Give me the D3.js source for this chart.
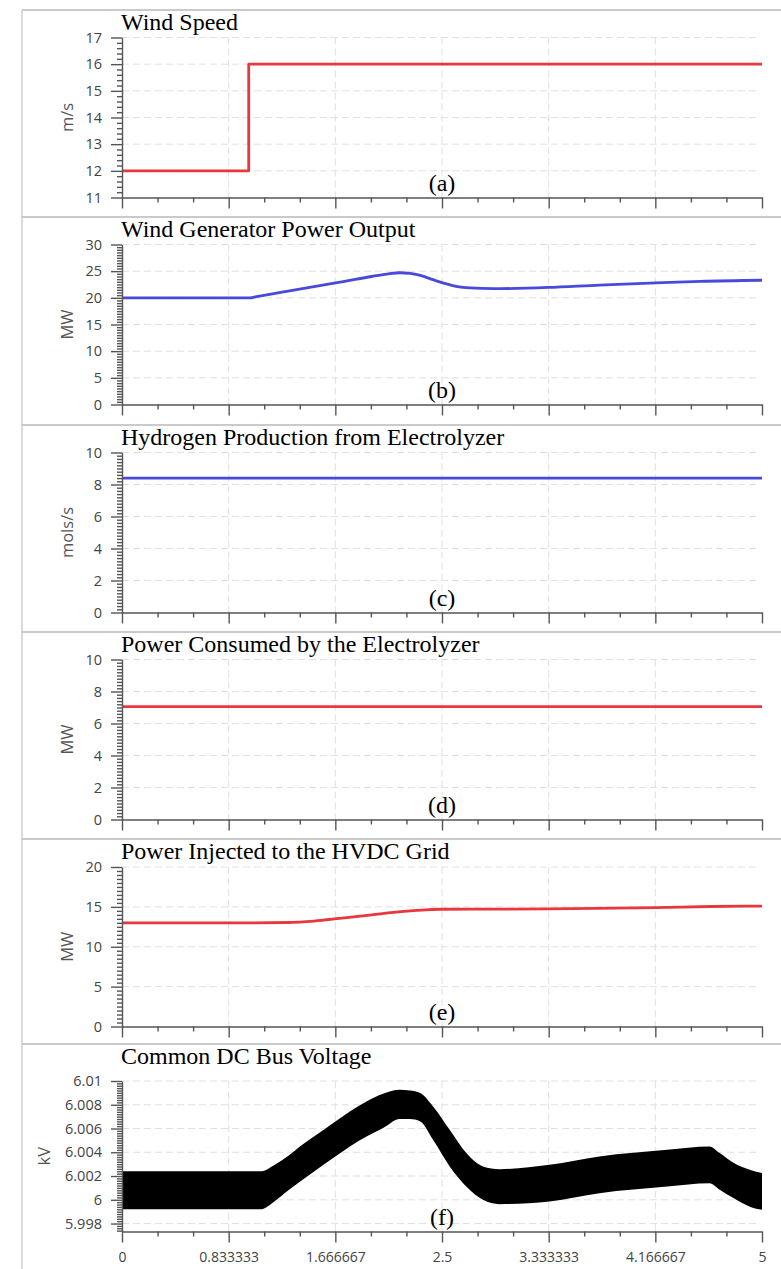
<!DOCTYPE html>
<html><head><meta charset="utf-8">
<script src="https://cdn.jsdelivr.net/npm/d3@7"></script>
<style>body{margin:0;background:#fff} svg{display:block}</style>
</head><body><svg id="c" width="781" height="1269"></svg>
<script>
// ---------- data ----------
const timeTicks = [0, 0.833333, 1.666667, 2.5, 3.333333, 4.166667, 5];
const timeTickLabels = ["0", "0.833333", "1.666667", "2.5", "3.333333", "4.166667", "5"];
const panelTitles = ["Wind Speed", "Wind Generator Power Output", "Hydrogen Production from Electrolyzer",
  "Power Consumed by the Electrolyzer", "Power Injected to the HVDC Grid", "Common DC Bus Voltage"];
const panelLetters = ["(a)", "(b)", "(c)", "(d)", "(e)", "(f)"];
const unitLabels = ["m/s", "MW", "mols/s", "MW", "MW", "kV"];

const windSpeedTicks = [11, 12, 13, 14, 15, 16, 17];
const windPowerTicks = [0, 5, 10, 15, 20, 25, 30];
const hydrogenTicks = [0, 2, 4, 6, 8, 10];
const elecPowerTicks = [0, 2, 4, 6, 8, 10];
const hvdcPowerTicks = [0, 5, 10, 15, 20];
const dcVoltageTicks = [5.998, 6, 6.002, 6.004, 6.006, 6.008, 6.01];
const dcVoltageTickLabels = ["5.998", "6", "6.002", "6.004", "6.006", "6.008", "6.01"];

const windSpeedTime = [0, 0.99, 0.99, 5];
const windSpeedValue = [12, 12, 16, 16];

const windPowerTime = [0, 1, 1.04, 1.25, 1.5, 1.75, 1.95, 2.07, 2.17, 2.25, 2.33, 2.43, 2.52, 2.62, 2.72, 2.9, 3.33, 3.73, 4.17, 4.52, 5];
const windPowerValue = [20, 20, 20.17, 21.05, 22.1, 23.15, 24.0, 24.45, 24.7, 24.6, 24.2, 23.4, 22.7, 22.1, 21.85, 21.72, 21.95, 22.4, 22.8, 23.1, 23.3];

const hydrogenTime = [0, 5];
const hydrogenValue = [8.4, 8.4];

const elecPowerTime = [0, 5];
const elecPowerValue = [7.05, 7.05];

const hvdcTime = [0, 1.0, 1.3, 1.5, 1.7, 1.9, 2.1, 2.3, 2.5, 3.0, 3.5, 4.17, 4.6, 5];
const hvdcValue = [13, 13, 13.04, 13.22, 13.55, 13.9, 14.28, 14.55, 14.7, 14.72, 14.78, 14.9, 15.05, 15.1];

const dcTime = [0, 1.08, 1.2, 1.3, 1.4, 1.52, 1.65, 1.78, 1.91, 2.04, 2.17, 2.25, 2.33, 2.43, 2.56, 2.69, 2.82, 2.95, 3.34, 3.73, 4.26, 4.59, 4.67, 4.78, 4.91, 5];
const dcUpper = [6.0024, 6.0024, 6.0030, 6.0037, 6.00457, 6.00547, 6.00646, 6.00744, 6.00828, 6.00893, 6.00926, 6.0092, 6.00898, 6.00786, 6.00589, 6.00393, 6.00281, 6.00258, 6.00295, 6.00365, 6.00421, 6.00449, 6.00393, 6.00309, 6.0025, 6.00225];
const dcLower = [5.9992, 5.9992, 5.99995, 6.0008, 6.0016, 6.00253, 6.00351, 6.00449, 6.00533, 6.00604, 6.0068, 6.0068, 6.0066, 6.00505, 6.00281, 6.00112, 6.0, 5.99963, 5.99986, 6.00056, 6.00112, 6.0014, 6.00085, 6.00012, 5.9994, 5.99916];

// ---------- layout ----------
const RED = "#e6262c", BLUE = "#3a3ad8";
const X0 = 122, X1 = 762;
const panelTops = [10, 217, 425, 632, 839, 1044];
const unitX = [72.5, 72.5, 72.5, 72.5, 72.5, 50];
const svg = d3.select("#c");
const x = d3.scaleLinear().domain([0, 5]).range([X0, X1]);

const panels = [
  {ticks: windSpeedTicks, labels: windSpeedTicks.map(String), domain: [11, 17], minor: 0.2, topOff: 27.5,
   kind: "line", t: windSpeedTime, v: windSpeedValue, color: RED, curve: d3.curveLinear},
  {ticks: windPowerTicks, labels: windPowerTicks.map(String), domain: [0, 30], minor: 0.5, topOff: 27.5,
   kind: "line", t: windPowerTime, v: windPowerValue, color: BLUE, curve: d3.curveMonotoneX},
  {ticks: hydrogenTicks, labels: hydrogenTicks.map(String), domain: [0, 10], minor: 0.2, topOff: 27.5,
   kind: "line", t: hydrogenTime, v: hydrogenValue, color: BLUE, curve: d3.curveLinear},
  {ticks: elecPowerTicks, labels: elecPowerTicks.map(String), domain: [0, 10], minor: 0.2, topOff: 27.5,
   kind: "line", t: elecPowerTime, v: elecPowerValue, color: RED, curve: d3.curveLinear},
  {ticks: hvdcPowerTicks, labels: hvdcPowerTicks.map(String), domain: [0, 20], minor: 0.5, topOff: 28,
   kind: "line", t: hvdcTime, v: hvdcValue, color: RED, curve: d3.curveMonotoneX},
  {ticks: dcVoltageTicks, labels: dcVoltageTickLabels, domain: [5.99733, 6.01], minor: 0.0002, topOff: 37,
   kind: "band", t: dcTime, hi: dcUpper, lo: dcLower, color: "#000", curve: d3.curveMonotoneX}
];

// frame lines
svg.append("line").attr("x1", 22).attr("x2", 22).attr("y1", 10).attr("y2", 1269)
  .attr("stroke", "#c4c4c4").attr("stroke-width", 1.2);
panelTops.forEach(t => svg.append("line").attr("x1", 22).attr("x2", 781).attr("y1", t).attr("y2", t)
  .attr("stroke", "#b8b8b8").attr("stroke-width", 1.3));

const xMinor = d3.range(0, 19).map(i => i * 5 / 18).filter((d, i) => i % 3 !== 0);

panels.forEach((p, i) => {
  const top = panelTops[i];
  const bottom = top + 187.5;
  const plotTop = (i === 5) ? 1081 : top + p.topOff;
  const y = d3.scaleLinear().domain(p.domain).range([bottom, plotTop]);
  const isLast = i === panels.length - 1;
  const g = svg.append("g");

  // grid
  const grid = g.append("g").attr("stroke", "#e0e0e0").attr("stroke-width", 1).attr("stroke-dasharray", "7,4");
  p.ticks.filter(d => Math.abs(y(d) - bottom) > 2).forEach(d =>
    grid.append("line").attr("x1", X0).attr("x2", X1 - 2).attr("y1", y(d)).attr("y2", y(d)));
  timeTicks.slice(1, -1).forEach(d =>
    grid.append("line").attr("x1", x(d)).attr("x2", x(d)).attr("y1", plotTop).attr("y2", bottom));

  // series
  if (p.kind === "line") {
    const pts = p.t.map((t, k) => [t, p.v[k]]);
    g.append("path").datum(pts)
      .attr("d", d3.line().x(d => x(d[0])).y(d => y(d[1])).curve(p.curve))
      .attr("fill", "none").attr("stroke", p.color).attr("stroke-width", 2.8)
      .attr("stroke-linejoin", "round").attr("opacity", 0.92);
  } else {
    const pts = p.t.map((t, k) => [t, p.lo[k], p.hi[k]]);
    g.append("path").datum(pts)
      .attr("d", d3.area().x(d => x(d[0])).y0(d => y(d[1])).y1(d => y(d[2])).curve(p.curve))
      .attr("fill", p.color);
  }

  // y axis minor
  const step = p.minor;
  const n0 = Math.ceil(p.domain[0] / step - 1e-6), n1 = Math.floor(p.domain[1] / step + 1e-6);
  const minors = d3.range(n0, n1 + 1).map(k => +(k * step).toFixed(6))
    .filter(v => !p.ticks.some(t => Math.abs(t - v) < step / 10));
  const yMinorAxis = g.append("g").attr("transform", `translate(${X0},0)`)
    .call(d3.axisLeft(y).tickValues(minors).tickSize(5).tickFormat(""));
  yMinorAxis.select(".domain").remove();

  const yAxis = g.append("g").attr("transform", `translate(${X0},0)`)
    .call(d3.axisLeft(y).tickValues(p.ticks).tickFormat((d, k) => p.labels[k]).tickSize(11).tickSizeOuter(0).tickPadding(9));

  // x axis
  const xMinorAxis = g.append("g").attr("transform", `translate(0,${bottom})`)
    .call(d3.axisBottom(x).tickValues(xMinor).tickSize(5).tickFormat(""));
  xMinorAxis.select(".domain").remove();
  const xAxis = g.append("g").attr("transform", `translate(0,${bottom})`)
    .call(d3.axisBottom(x).tickValues(timeTicks).tickSize(11).tickSizeOuter(0).tickPadding(10)
      .tickFormat((d, k) => isLast ? timeTickLabels[k] : ""));

  [yMinorAxis, yAxis, xMinorAxis, xAxis].forEach(a => {
    a.selectAll("line").attr("stroke", "#555").attr("stroke-width", 1.4);
    a.selectAll(".domain").attr("stroke", "#555").attr("stroke-width", 1.4);
    a.selectAll("text").attr("fill", "#444").style("font-family", "'Open Sans', sans-serif").style("font-size", "14.5px");
  });
  xAxis.selectAll("text").style("font-size", "14px");

  // unit label
  g.append("text").attr("transform", `translate(${unitX[i]},${(plotTop + bottom) / 2}) rotate(-90)`)
    .attr("text-anchor", "middle").attr("fill", "#555")
    .style("font-family", "'Open Sans', sans-serif").style("font-size", "16.5px").text(unitLabels[i]);

  // title
  g.append("text").attr("x", 121).attr("y", top + 20)
    .style("font-family", "'Liberation Serif', 'Times New Roman', serif").style("font-size", "24px")
    .attr("fill", "#000").text(panelTitles[i]);

  // panel letter
  g.append("text").attr("x", x(2.5)).attr("y", bottom - 6.5).attr("text-anchor", "middle")
    .style("font-family", "'Liberation Serif', 'Times New Roman', serif").style("font-size", "24px")
    .attr("fill", "#000").text(panelLetters[i]);
});
</script>
</body></html>
